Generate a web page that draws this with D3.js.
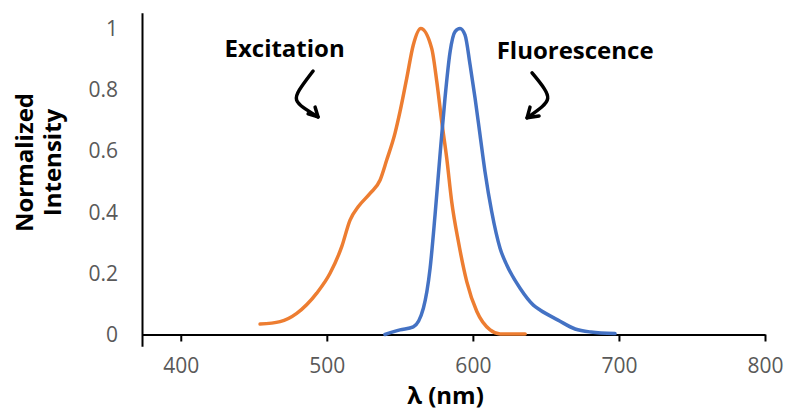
<!DOCTYPE html>
<html>
<head>
<meta charset="utf-8">
<script src="https://cdn.jsdelivr.net/npm/d3@7"></script>
<style>
  html, body { margin: 0; padding: 0; background: #fff; }
  svg { display: block; }
</style>
</head>
<body>
<svg id="chart" width="786" height="411"></svg>
<script>
// ---- data ----
const excitationNm = [454.3, 468.0, 479.4, 493.1, 502.2, 510.2, 515.9, 521.6, 529.6, 536.5, 541.0, 546.7, 550.1, 554.7, 559.2, 564.3, 571.8, 575.3, 578.7, 582.1, 585.5, 590.1, 595.8, 602.7, 611.8, 618.7, 635.8];
const excitationI  = [0.034, 0.042, 0.069, 0.135, 0.200, 0.287, 0.374, 0.418, 0.461, 0.505, 0.570, 0.658, 0.728, 0.837, 0.946, 1.000, 0.935, 0.826, 0.695, 0.576, 0.434, 0.303, 0.173, 0.075, 0.015, 0.002, 0.002];

const fluorescenceNm = [539.8, 550.1, 559.2, 566.1, 570.7, 574.1, 577.5, 580.9, 584.4, 587.8, 591.2, 594.6, 598.1, 601.5, 604.9, 608.3, 612.9, 618.6, 623.2, 632.3, 641.4, 646.0, 658.3, 670.0, 680.8, 697.3];
const fluorescenceI  = [0.000, 0.015, 0.025, 0.086, 0.216, 0.391, 0.587, 0.772, 0.924, 0.990, 1.000, 0.979, 0.881, 0.772, 0.652, 0.532, 0.401, 0.282, 0.227, 0.151, 0.096, 0.080, 0.047, 0.018, 0.008, 0.003];

const xTicks = [400, 500, 600, 700, 800];
const yTicks = [0, 0.2, 0.4, 0.6, 0.8, 1];
const yTickLabels = ["0", "0.2", "0.4", "0.6", "0.8", "1"];

const xTitle = "λ (nm)";
const yTitleLines = ["Normalized", "Intensity"];
const seriesNames = ["Excitation", "Fluorescence"];
const seriesColors = ["#ED7D31", "#4472C4"];

// annotation anchors in data units [nm, intensity]
const labelAnchors = [[471.1, 0.906], [670.0, 0.899]];
const excitationArrow = [[490.6, 0.861], [479.6, 0.792], [478.3, 0.766], [483.0, 0.743], [494.0, 0.711]];
const excitationHead = [[487.2, 0.721], [494.0, 0.711], [492.0, 0.743]];
const fluorescenceArrow = [[640.5, 0.855], [650.1, 0.799], [652.1, 0.770], [648.7, 0.747], [637.1, 0.708]];
const fluorescenceHead = [[639.1, 0.743], [637.1, 0.708], [645.3, 0.714]];

// ---- chart ----
const svg = d3.select("#chart");
const x = d3.scaleLinear().domain([373.8, 800]).range([142.5, 765]);
const y = d3.scaleLinear().domain([0, 1.05]).range([334.5, 13.2]);

const tickFont = "'Open Sans', sans-serif";
const boldFont = "'Open Sans', sans-serif";

// x axis
const xAxis = d3.axisBottom(x).tickValues(xTicks).tickSize(7).tickSizeOuter(0).tickFormat(d3.format("d"));
const gx = svg.append("g").attr("transform", `translate(0,${y(0)})`).call(xAxis);
gx.select(".domain").attr("stroke", "#000").attr("stroke-width", 2);
gx.selectAll(".tick line").attr("stroke", "#000").attr("stroke-width", 2);
gx.selectAll(".tick text")
  .attr("y", 38).attr("dy", null)
  .attr("fill", "#595959")
  .style("font-family", tickFont).style("font-size", "21px");

// y axis line (extends a little below the x axis)
svg.append("line")
  .attr("x1", x.range()[0]).attr("x2", x.range()[0])
  .attr("y1", y.range()[1]).attr("y2", y(0) + 12.2)
  .attr("stroke", "#000").attr("stroke-width", 2);

// y tick labels
svg.append("g").selectAll("text").data(yTicks).join("text")
  .attr("x", x.range()[0] - 24.5)
  .attr("y", d => y(d) + 7.5)
  .attr("text-anchor", "end")
  .attr("fill", "#595959")
  .style("font-family", tickFont).style("font-size", "21px")
  .text((d, i) => yTickLabels[i]);

// titles
svg.append("text")
  .attr("x", 445.5).attr("y", 404)
  .attr("text-anchor", "middle")
  .style("font-family", boldFont).style("font-weight", "bold").style("font-size", "24px")
  .attr("fill", "#000")
  .text(xTitle);

const yTitle = svg.append("text")
  .attr("transform", "translate(33,162.5) rotate(-90)")
  .attr("text-anchor", "middle")
  .style("font-family", boldFont).style("font-weight", "bold").style("font-size", "24px")
  .attr("fill", "#000");
yTitle.selectAll("tspan").data(yTitleLines).join("tspan")
  .attr("x", 0).attr("dy", (d, i) => i === 0 ? 0 : 28)
  .text(d => d);

// series lines
const line = d3.line().x(d => x(d[0])).y(d => y(d[1])).curve(d3.curveMonotoneX);
const series = [
  d3.zip(excitationNm, excitationI),
  d3.zip(fluorescenceNm, fluorescenceI)
];
svg.append("g").selectAll("path").data(series).join("path")
  .attr("d", line)
  .attr("fill", "none")
  .attr("stroke", (d, i) => seriesColors[i])
  .attr("stroke-width", 3.5)
  .attr("stroke-linejoin", "round")
  .attr("stroke-linecap", "round");

// annotation labels
svg.append("g").selectAll("text").data(seriesNames).join("text")
  .attr("x", (d, i) => x(labelAnchors[i][0]))
  .attr("y", (d, i) => y(labelAnchors[i][1]))
  .attr("text-anchor", "middle")
  .style("font-family", boldFont).style("font-weight", "bold").style("font-size", "24px")
  .attr("fill", "#000")
  .text(d => d);

// hand-drawn arrows
const arrowLine = d3.line().x(d => x(d[0])).y(d => y(d[1])).curve(d3.curveBasis);
const headLine = d3.line().x(d => x(d[0])).y(d => y(d[1]));
const ag = svg.append("g").attr("fill", "none").attr("stroke", "#000")
  .attr("stroke-width", 3.5).attr("stroke-linecap", "round").attr("stroke-linejoin", "round");
[excitationArrow, fluorescenceArrow].forEach(a => {
  const pts = [a[0], ...a, a[a.length - 1]];
  ag.append("path").attr("d", arrowLine(pts));
});
[excitationHead, fluorescenceHead].forEach(h => ag.append("path").attr("d", headLine(h)));
</script>
</body>
</html>
